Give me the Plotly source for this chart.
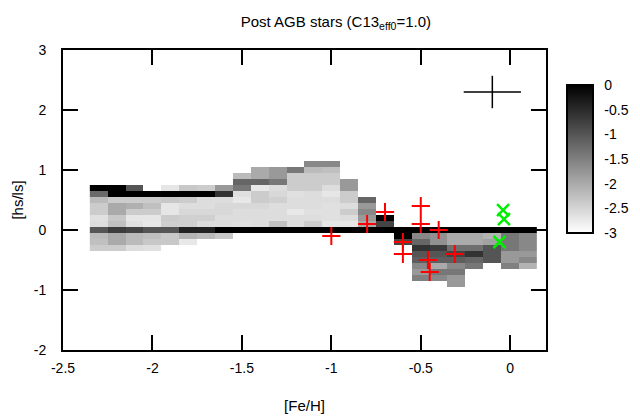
import plotly.graph_objects as go

N = None

# Column centres ([Fe/H]) and row centres ([hs/ls]) of the grid
fe_h = [-2.3, -2.2, -2.1, -2.0, -1.9, -1.8, -1.7, -1.6, -1.5, -1.4, -1.3, -1.2,
        -1.1, -1.0, -0.9, -0.8, -0.7, -0.6, -0.5, -0.4, -0.3, -0.2, -0.1, 0.0, 0.1]
hs_ls = [-0.9, -0.8, -0.7, -0.6, -0.5, -0.4, -0.3, -0.2, -0.1, 0.0,
         0.1, 0.2, 0.3, 0.4, 0.5, 0.6, 0.7, 0.8, 0.9, 1.0, 1.1]

# log frequency per cell (one list per [hs/ls] row, bottom to top)
z_m09 = [N]*20 + [-1.8, N, N, N, N]
z_m08 = [N]*18 + [-1.5, -1.6, -1.8, N, N, N, N]
z_m07 = [N]*18 + [-1.8, -1.4, -1.4, N, N, N, N]
z_m06 = [N]*18 + [-1.6, -2.0, -1.6, -1.4, N, -1.5, -2.1]
z_m05 = [N]*18 + [-1.1, -1.1, -1.1, -1.2, -1.0, -1.8, -1.6]
z_m04 = [N]*18 + [-1.0, -1.0, -0.8, -0.6, -1.0, -1.8, -1.8]
z_m03 = [-2.4, -2.4, -2.6, -2.64] + [N]*14 + [-0.6, -0.7, -1.3, -1.3, -1.0, -1.4, -1.6]
z_m02 = [-2.26, -2.0, -2.2, -2.35, -2.35, -2.73] + [N]*11 + [-0.8, -1.2, -1.7, -2.0, -2.0, -1.9, -1.4, -1.6]
z_m01 = [-2.2, -2.0, -2.2, -2.26, -2.35, -2.1, -2.2, -2.35] + [N]*9 + [0.0, -1.6, -1.7, -2.0, -2.0, -2.1, -1.4, -1.6]
z_p00 = [-1.0, -0.7, -0.8, -1.0, -1.0, -0.4, -0.4] + [0.0]*18
z_p01 = [-2.6, -2.26, -2.64, -2.73, -2.45, -2.45, -2.6, -2.6, -2.64, -2.6, -2.26, -2.6,
         -2.4, -2.7, -2.7, -2.0, -0.8] + [N]*8
z_p02 = [-2.64, -2.35, -2.7, -2.7, -2.4, -2.45, -2.45, -2.6, -2.6, -2.6, -2.6, -2.6,
         -2.6, -2.64, -2.6, -1.8, 0.0] + [N]*8
z_p03 = [-2.4, -2.0, -2.4, -2.4, -2.7, -2.54, -2.54, -2.54, -2.6, -2.6, -2.6, -2.73,
         -2.64, -2.64, -2.4, -1.6] + [N]*9
z_p04 = [-2.4, -2.0, -2.07, -2.26, -2.7, -2.6, -2.6, -2.54, -2.54, -2.54, -2.6, -2.6,
         -2.6, -2.64, -2.6, -1.8] + [N]*9
z_p05 = [-2.2, -2.4, -2.4, -2.4, -2.35, -2.4, -2.6, -2.6, -2.73, -2.4, -2.45, -2.6,
         -2.6, -2.6, -2.4, -1.2] + [N]*9
z_p06 = [-1.25, 0.0, 0.0, 0.0, 0.0, 0.0, 0.0, -0.6, -2.64, -2.4, -2.54, -2.64,
         -2.6, -2.7, -2.4] + [N]*10
z_p07 = [0.0, 0.0, -1.0, N, -2.7, -2.35, -2.4, -1.8, -1.4, -2.73, -2.6, -2.4,
         -2.4, -2.6, -1.8] + [N]*10
z_p08 = [N]*8 + [-1.2, -1.2, -1.4, -2.4, -2.4, -2.4, -1.8] + [N]*10
z_p09 = [N]*8 + [-2.2, -2.0, -1.8, -2.4, -2.4, -2.4] + [N]*11
z_p10 = [N]*9 + [-2.0, -1.8, -1.4, -2.2, -2.26] + [N]*11
z_p11 = [N]*12 + [-1.6, -1.6] + [N]*11

z = [z_m09, z_m08, z_m07, z_m06, z_m05, z_m04, z_m03, z_m02, z_m01, z_p00,
     z_p01, z_p02, z_p03, z_p04, z_p05, z_p06, z_p07, z_p08, z_p09, z_p10, z_p11]
for row in z:
    assert len(row) == len(fe_h)

# Post-AGB stars
star_feh = [-1.0, -0.8, -0.7, -0.6, -0.6, -0.5, -0.5, -0.4, -0.46, -0.45, -0.31]
star_hsls = [-0.1, 0.1, 0.3, -0.2, -0.4, 0.4, 0.1, 0.0, -0.5, -0.7, -0.4]

# Second group of stars (green crosses)
star2_feh = [-0.04, -0.035, -0.06]
star2_hsls = [0.33, 0.18, -0.2]

# Typical error bar
err_x = [-0.1]
err_y = [2.3]
err_dx = [0.16]
err_dy = [0.27]

cb_ticks = [0, -0.5, -1, -1.5, -2, -2.5, -3]

FONT = "Liberation Sans"

fig = go.Figure()
fig.add_trace(go.Heatmap(
    x=fe_h, y=hs_ls, z=z, zmin=-3, zmax=0,
    colorscale=[[0, "#ffffff"], [1, "#000000"]],
    hoverongaps=False,
    colorbar=dict(
        x=1.0435, xanchor="left", xpad=0,
        y=0.6367, yanchor="middle", ypad=0,
        lenmode="pixels", len=148,
        thicknessmode="pixels", thickness=26,
        outlinewidth=2, outlinecolor="black",
        tickvals=cb_ticks, ticktext=[str(v) for v in cb_ticks],
        ticks="outside", ticklen=8, tickcolor="rgba(0,0,0,0)",
        tickfont=dict(family=FONT, size=14, color="black"),
    ),
))
fig.add_trace(go.Scatter(
    x=star_feh, y=star_hsls, mode="markers",
    marker=dict(symbol="cross-thin", size=13, line=dict(color="#ff0000", width=2)),
    showlegend=False,
))
fig.add_trace(go.Scatter(
    x=star2_feh, y=star2_hsls, mode="markers",
    marker=dict(symbol="x-thin", size=12, line=dict(color="#00ee00", width=2.5)),
    showlegend=False,
))
fig.add_trace(go.Scatter(
    x=err_x, y=err_y, mode="markers",
    marker=dict(size=1, color="rgba(0,0,0,0)"),
    error_x=dict(type="data", array=err_dx, width=0, thickness=1.5, color="black"),
    error_y=dict(type="data", array=err_dy, width=0, thickness=1.5, color="black"),
    showlegend=False,
))

# separator lines across the colour bar
cb_x0 = 1.0435
cb_x1 = cb_x0 + 26 / 483
cb_y0 = 0.6367 - 74 / 300
for v in cb_ticks[1:-1]:
    yy = cb_y0 + (v + 3) / 3 * (148 / 300)
    fig.add_shape(type="line", xref="paper", yref="paper",
                  x0=cb_x0, x1=cb_x1, y0=yy, y1=yy,
                  line=dict(color="black", width=2))

axis_common = dict(
    showgrid=False, zeroline=False, showline=True, linecolor="black", linewidth=2,
    mirror="ticks", ticks="inside", ticklen=15, tickwidth=2, tickcolor="black",
    tickfont=dict(family=FONT, size=14, color="black"), automargin=False,
)
fig.update_layout(
    width=640, height=418,
    margin=dict(l=63, r=94, t=50, b=68, autoexpand=False),
    paper_bgcolor="white", plot_bgcolor="white",
    title=dict(text="Post AGB stars (C13<sub>eff0</sub>=1.0)",
               x=0.565, xref="paper", xanchor="center",
               y=1 - 22 / 418, yref="container", yanchor="middle",
               font=dict(family=FONT, size=15, color="black")),
    xaxis=dict(range=[-2.5, 0.2], tickvals=[-2.5, -2, -1.5, -1, -0.5, 0],
               ticktext=["-2.5", "-2", "-1.5", "-1", "-0.5", "0"],
               ticklabelstandoff=4,
               title=dict(text="[Fe/H]", font=dict(family=FONT, size=15, color="black"),
                          standoff=26),
               **axis_common),
    yaxis=dict(range=[-2, 3], tickvals=[-2, -1, 0, 1, 2, 3],
               ticktext=["-2", "-1", "0", "1", "2", "3"],
               ticklabelstandoff=12,
               title=dict(text="[hs/ls]", font=dict(family=FONT, size=15, color="black"),
                          standoff=6),
               **axis_common),
)

fig.write_html("out.html", config={"displayModeBar": False},
               post_script="document.body.style.margin='0';")
